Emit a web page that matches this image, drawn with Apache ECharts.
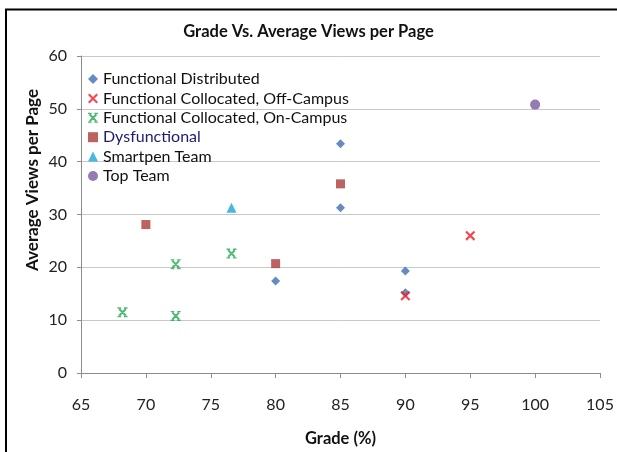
<!DOCTYPE html>
<html>
<head>
<meta charset="utf-8">
<script src="https://cdn.jsdelivr.net/npm/echarts@6/dist/echarts.min.js"></script>
<style>
  html, body { margin: 0; padding: 0; background: #fff; }
  #chart { width: 617px; height: 452px; }
</style>
</head>
<body>
<div id="chart"></div>
<script>
// data: [grade, views]
const functionalDistributed = [[80, 17.4], [85, 31.3], [85, 43.4], [90, 19.3], [90, 15.2]];
const collocatedOff = [[90, 14.6], [95, 26.0]];
const collocatedOn = [[68.2, 11.5], [72.3, 20.6], [72.3, 10.8], [76.6, 22.6]];
const dysfunctional = [[70, 28.1], [80, 20.7], [85, 35.8]];
const smartpen = [[76.6, 31.3]];
const topTeam = [[100, 50.8]];

const xTicks = [65, 105, 5];
const yTicks = [0, 60, 10];

// marker shapes
const xMark = "path://M0.4,1.8L1.8,0.4L9.6,8.2L8.2,9.6Z M8.2,0.4L9.6,1.8L1.8,9.6L0.4,8.2Z";
// X with little horizontal serifs at the four ends
const starMark = "path://M1,2.4L2.4,1L9,7.6L7.6,9Z M7.6,1L9,2.4L2.4,9L1,7.6Z M0,0L3.6,0L3.6,1.4L0,1.4Z M6.4,0L10,0L10,1.4L6.4,1.4Z M0,8.6L3.6,8.6L3.6,10L0,10Z M6.4,8.6L10,8.6L10,10L6.4,10Z";

const font = "Lato, 'Liberation Sans', sans-serif";

const chart = echarts.init(document.getElementById("chart"));

chart.setOption({
  animation: false,
  backgroundColor: "#fff",
  title: {
    text: "Grade Vs. Average Views per Page",
    left: "center",
    top: 18,
    textStyle: { fontFamily: font, fontSize: 16.5, fontWeight: "bold", color: "#111" },
  },
  legend: {
    orient: "vertical",
    left: 83,
    top: 66,
    itemWidth: 10,
    itemHeight: 10,
    itemGap: 3.4,
    textStyle: { fontFamily: font, fontSize: 16, lineHeight: 16, color: "#111" },
    data: [
      "Functional Distributed",
      "Functional Collocated, Off-Campus",
      "Functional Collocated, On-Campus",
      { name: "Dysfunctional", textStyle: { color: "#1c1c70" } },
      "Smartpen Team",
      "Top Team",
    ],
  },
  grid: { left: 81, right: 17, top: 56, bottom: 77 },
  xAxis: {
    type: "value",
    min: xTicks[0],
    max: xTicks[1],
    interval: xTicks[2],
    name: "Grade (%)",
    nameLocation: "middle",
    nameGap: 57,
    nameTextStyle: { fontFamily: font, fontSize: 16.5, fontWeight: "bold", color: "#111" },
    axisLine: { lineStyle: { color: "#8c8c8c" } },
    axisTick: { show: true, length: 5, lineStyle: { color: "#8c8c8c" } },
    axisLabel: { fontFamily: font, fontSize: 16, color: "#222", margin: 24 },
    splitLine: { show: false },
  },
  yAxis: {
    type: "value",
    min: yTicks[0],
    max: yTicks[1],
    interval: yTicks[2],
    axisLine: { show: true, lineStyle: { color: "#8c8c8c" } },
    axisTick: { show: true, length: 4, lineStyle: { color: "#8c8c8c" } },
    axisLabel: { fontFamily: font, fontSize: 16, color: "#222", margin: 14 },
    splitLine: { lineStyle: { color: "#c8c8c8", width: 1 } },
  },
  graphic: [
    {
      type: "polyline",
      shape: { points: [[6, 452], [6, 9.5], [617, 9.5]] },
      style: { stroke: "#000", lineWidth: 2, fill: null },
      silent: true,
    },
    {
      type: "text",
      x: 33,
      y: 180,
      rotation: Math.PI / 2,
      style: {
        text: "Average Views per Page",
        fontFamily: font,
        fontSize: 17,
        fontWeight: "bold",
        fill: "#111",
        align: "center",
        verticalAlign: "middle",
      },
    },
  ],
  series: [
    {
      name: "Functional Distributed",
      type: "scatter",
      symbol: "diamond",
      symbolSize: 9,
      itemStyle: { color: "#3e6fb0" },
      data: functionalDistributed,
      z: 2,
    },
    {
      name: "Functional Collocated, Off-Campus",
      type: "scatter",
      symbol: xMark,
      symbolSize: 10,
      itemStyle: { color: "#ee1c24" },
      data: collocatedOff,
      z: 3,
    },
    {
      name: "Functional Collocated, On-Campus",
      type: "scatter",
      symbol: starMark,
      symbolSize: 10,
      itemStyle: { color: "#21a850" },
      data: collocatedOn,
    },
    {
      name: "Dysfunctional",
      type: "scatter",
      symbol: "rect",
      symbolSize: 9,
      itemStyle: { color: "#ad3a3a" },
      data: dysfunctional,
    },
    {
      name: "Smartpen Team",
      type: "scatter",
      symbol: "triangle",
      symbolSize: 10,
      itemStyle: { color: "#1aa6d6" },
      data: smartpen,
    },
    {
      name: "Top Team",
      type: "scatter",
      symbol: "circle",
      symbolSize: 10,
      itemStyle: { color: "#7a5a9e" },
      data: topTeam,
    },
  ],
});
</script>
</body>
</html>
